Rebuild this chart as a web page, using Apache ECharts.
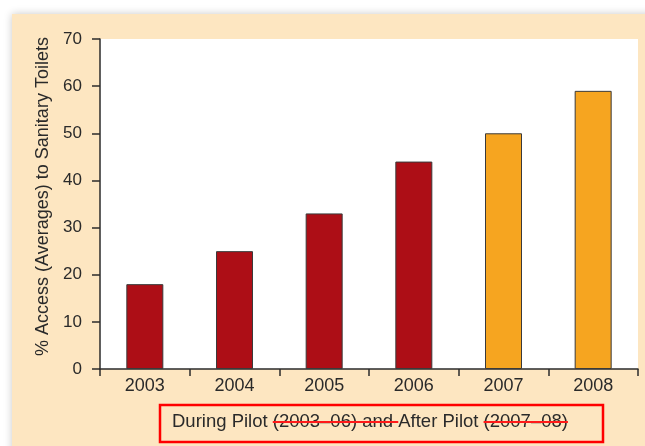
<!DOCTYPE html>
<html>
<head>
<meta charset="utf-8">
<script src="https://cdn.jsdelivr.net/npm/echarts@6/dist/echarts.min.js"></script>
<style>
  html, body { margin: 0; padding: 0; background: #ffffff; }
  #wrap { position: relative; width: 645px; height: 446px; overflow: hidden; }
  #panel {
    position: absolute; left: 12px; top: 14px; width: 660px; height: 460px;
    background: #fde6c1; box-shadow: 0 0 8px rgba(0, 0, 0, 0.22);
  }
  #chart { position: absolute; left: 0; top: 0; width: 645px; height: 446px; }
</style>
</head>
<body>
<div id="wrap">
  <div id="panel"></div>
  <div id="chart"></div>
</div>
<script>
// Yearly access to sanitary toilets (%), pilot phase vs. after pilot
const years = ['2003', '2004', '2005', '2006', '2007', '2008'];
const access = [18, 25, 33, 44, 50, 59];
const phase = ['during', 'during', 'during', 'during', 'after', 'after'];
const yTicks = { min: 0, max: 70, interval: 10 };

const phaseColors = { during: '#ad0e16', after: '#f6a520' };
const yTitle = '% Access (Averages) to Sanitary Toilets';

// x-axis caption, split into plain and struck-through pieces
const captionParts = [
  { text: 'During Pilot ', strike: false },
  { text: '(2003\u201306) and ', strike: true },
  { text: 'After Pilot ', strike: false },
  { text: '(2007\u201308)', strike: true }
];

const FONT = '"Liberation Sans", Arial, Helvetica, sans-serif';
const textColor = '#2a2a2a';
const axisColor = '#2b2b2b';

const chart = echarts.init(document.getElementById('chart'), null, { renderer: 'canvas' });

// measure caption pieces so strike lines sit on the drawn text
const measureCtx = document.createElement('canvas').getContext('2d');
const capSize = 18.5;
measureCtx.font = capSize + 'px ' + FONT;
const capX = 172, capY = 422;
const capGraphics = [];
let cursor = capX;
captionParts.forEach(function (p) {
  const w = measureCtx.measureText(p.text).width;
  if (p.strike) {
    // the first struck piece runs through its trailing space up to the next word
    const wl = p.text.indexOf('and') >= 0 ? w : measureCtx.measureText(p.text.trim()).width;
    capGraphics.push({
      type: 'line', z: 110,
      shape: { x1: cursor, y1: capY, x2: cursor + wl, y2: capY },
      style: { stroke: '#ff1a1a', lineWidth: 2 }
    });
  }
  cursor += w;
});

chart.setOption({
  animation: false,
  backgroundColor: 'transparent',
  grid: {
    left: 100, top: 39, right: 7, bottom: 77,
    show: true, backgroundColor: '#ffffff', borderWidth: 0
  },
  xAxis: {
    type: 'category',
    data: years,
    boundaryGap: true,
    axisLine: { show: true, lineStyle: { color: axisColor, width: 1.5 } },
    axisTick: { show: true, length: 7, lineStyle: { color: axisColor, width: 1.5 } },
    axisLabel: { color: textColor, fontSize: 18, fontFamily: FONT, margin: 8 },
    splitLine: { show: false }
  },
  yAxis: {
    type: 'value',
    min: yTicks.min, max: yTicks.max, interval: yTicks.interval,
    name: yTitle,
    nameLocation: 'middle',
    nameGap: 48,
    nameTextStyle: { color: textColor, fontSize: 18, fontFamily: FONT, padding: [0, 0, 0, 15] },
    axisLine: { show: true, lineStyle: { color: axisColor, width: 1.5 } },
    axisTick: { show: true, length: 8, lineStyle: { color: axisColor, width: 1.5 } },
    axisLabel: { color: textColor, fontSize: 17, fontFamily: FONT, margin: 18 },
    splitLine: { show: false }
  },
  series: [{
    type: 'bar',
    barWidth: 37,
    data: access.map(function (v, i) {
      return {
        value: v,
        itemStyle: { color: phaseColors[phase[i]], borderColor: '#3a3a3a', borderWidth: 1 }
      };
    })
  }],
  graphic: [
    {
      type: 'rect', z: 100,
      shape: { x: 160, y: 405, width: 443, height: 37 },
      style: { fill: 'none', stroke: '#ff0000', lineWidth: 2.5 }
    },
    {
      type: 'text', z: 105,
      x: capX, y: capY,
      style: {
        text: captionParts.map(function (p) { return p.text; }).join(''),
        fill: textColor, font: capSize + 'px ' + FONT,
        textVerticalAlign: 'middle', verticalAlign: 'middle'
      }
    }
  ].concat(capGraphics)
});
</script>
</body>
</html>
